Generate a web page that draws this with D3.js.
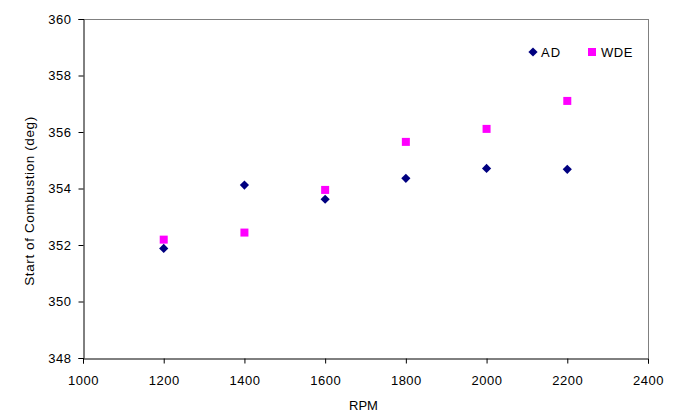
<!DOCTYPE html>
<html>
<head>
<meta charset="utf-8">
<script src="https://cdn.jsdelivr.net/npm/d3@7"></script>
<style>
  html, body { margin: 0; padding: 0; background: #fff; }
  svg { display: block; }
  text { font-family: "Liberation Sans", Arial, sans-serif; fill: #000; }
</style>
</head>
<body>
<svg id="chart" width="677" height="419"></svg>
<script>
const rpm = [1200, 1400, 1600, 1800, 2000, 2200];
const adValues = [351.88, 354.12, 353.62, 354.36, 354.71, 354.68];
const wdeValues = [352.19, 352.44, 353.95, 355.65, 356.11, 357.10];
const xTicks = [1000, 1200, 1400, 1600, 1800, 2000, 2200, 2400];
const yTicks = [348, 350, 352, 354, 356, 358, 360];
const seriesNames = ["AD", "WDE"];

const svg = d3.select("#chart");
const pLeft = 83, pRight = 648, pTop = 19, pBottom = 358;

const x = d3.scaleLinear().domain([1000, 2400]).range([pLeft, pRight]);
const y = d3.scaleLinear().domain([348, 360]).range([pBottom, pTop]);

// frame: top and right gray
svg.append("line").attr("x1", pLeft).attr("x2", pRight).attr("y1", pTop + 0.5).attr("y2", pTop + 0.5)
  .attr("stroke", "#808080").attr("stroke-width", 1);
svg.append("line").attr("x1", pRight + 0.5).attr("x2", pRight + 0.5).attr("y1", pTop).attr("y2", pBottom)
  .attr("stroke", "#808080").attr("stroke-width", 1);

const fontSize = "13px";

const xAxis = svg.append("g").attr("transform", `translate(0,${pBottom + 0.5})`)
  .call(d3.axisBottom(x).tickValues(xTicks).tickSize(5).tickPadding(12).tickFormat(d3.format("d")));
xAxis.select(".domain").attr("stroke", "#000");
xAxis.selectAll(".tick line").attr("stroke", "#000");
xAxis.selectAll("text").style("font-size", fontSize).style("letter-spacing", "0.5px")
  .attr("font-family", null).attr("fill", "#000");

const yAxis = svg.append("g").attr("transform", `translate(${pLeft + 0.5},0)`)
  .call(d3.axisLeft(y).tickValues(yTicks).tickSize(5).tickPadding(7).tickFormat(d3.format("d")));
yAxis.select(".domain").attr("stroke", "#000");
yAxis.selectAll(".tick line").attr("stroke", "#000");
yAxis.selectAll("text").style("font-size", fontSize).style("letter-spacing", "0.5px")
  .attr("font-family", null).attr("fill", "#000");

// axis titles
svg.append("text").attr("x", (pLeft + pRight) / 2 - 2).attr("y", 410).attr("text-anchor", "middle")
  .style("font-size", fontSize).text("RPM");
svg.append("text").attr("transform", "translate(34,201) rotate(-90)")
  .attr("text-anchor", "middle").style("font-size", "13.5px").style("letter-spacing", "0.6px")
  .text("Start of Combustion (deg)");

const diamondPath = (r) => d3.line()([[0, -r], [r, 0], [0, r], [-r, 0]]) + "Z";
const diamond = diamondPath(4.6);

// WDE squares
svg.append("g").selectAll("rect").data(rpm).join("rect")
  .attr("x", (d) => x(d) - 4).attr("y", (d, i) => y(wdeValues[i]) - 4)
  .attr("width", 8).attr("height", 8).attr("fill", "#FF00FF");

// AD diamonds
svg.append("g").selectAll("path").data(rpm).join("path")
  .attr("d", diamond)
  .attr("transform", (d, i) => `translate(${x(d)},${y(adValues[i])})`)
  .attr("fill", "#000080");

// legend
const lg = svg.append("g");
lg.append("path").attr("d", diamond).attr("transform", "translate(533,52)").attr("fill", "#000080");
lg.append("text").attr("x", 541).attr("y", 56.5).style("font-size", fontSize).style("letter-spacing", "1.2px").text(seriesNames[0]);
lg.append("rect").attr("x", 588).attr("y", 48).attr("width", 8).attr("height", 8).attr("fill", "#FF00FF");
lg.append("text").attr("x", 601).attr("y", 56.5).style("font-size", fontSize).style("letter-spacing", "0.5px").text(seriesNames[1]);
</script>
</body>
</html>
